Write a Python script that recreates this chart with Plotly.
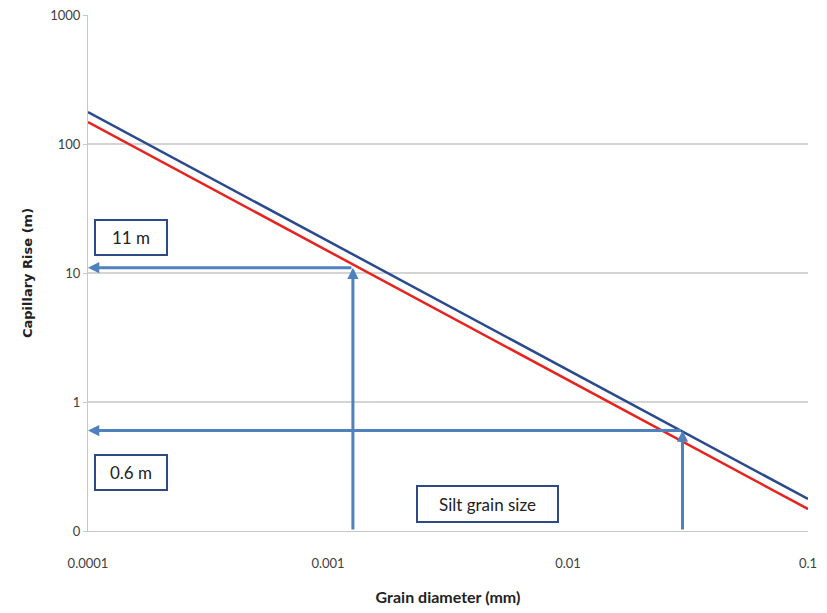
import math
import plotly.graph_objects as go

# Grain diameter (mm) and capillary rise (m) for the two curves
diameter = [0.0001, 0.001, 0.01, 0.1]
rise_blue = [177, 17.7, 1.77, 0.177]
rise_red = [148, 14.8, 1.48, 0.148]

x_ticks = [0.0001, 0.001, 0.01, 0.1]
x_tick_text = ["0.0001", "0.001", "0.01", "0.1"]
y_ticks = [0.1, 1, 10, 100, 1000]
y_tick_text = ["0", "1", "10", "100", "1000"]

# Reading guides: grain size -> capillary rise
clay_d, clay_rise = 0.00127, 11
silt_d, silt_rise = 0.03, 0.6
y_floor = 0.1
x_floor = 0.0001

arrow_color = "#4F81BD"
box_color = "#2E4A86"
font = "Lato, Liberation Sans, sans-serif"

fig = go.Figure()
fig.add_trace(go.Scatter(x=diameter, y=rise_blue, mode="lines",
                         line=dict(color="#2B4A8E", width=2.5), showlegend=False))
fig.add_trace(go.Scatter(x=diameter, y=rise_red, mode="lines",
                         line=dict(color="#E8231F", width=2.5), showlegend=False))

L = math.log10
annotations = []


def arrow(x_head, y_head, x_tail, y_tail):
    annotations.append(dict(
        x=L(x_head), y=L(y_head), ax=L(x_tail), ay=L(y_tail),
        xref="x", yref="y", axref="x", ayref="y",
        showarrow=True, arrowhead=2, arrowsize=0.75, arrowwidth=3,
        arrowcolor=arrow_color, text=""))


# vertical guides rising from the axis, horizontal guides pointing to the y axis
arrow(clay_d, clay_rise, clay_d, y_floor)
arrow(x_floor, clay_rise, clay_d, clay_rise)
arrow(silt_d, silt_rise, silt_d, y_floor)
arrow(x_floor, silt_rise, silt_d, silt_rise)


def box(text, xv, yv, w, h):
    annotations.append(dict(
        x=xv, y=yv, xref="x", yref="y", text=text, showarrow=False,
        width=w, height=h, bordercolor=box_color, borderwidth=2,
        bgcolor="white", font=dict(family=font, size=17, color="#222222")))


box("11 m", -3.821, 1.279, 68, 31)
box("0.6 m", -3.821, -0.550, 68, 31)
box("Silt grain size", -2.337, -0.791, 137, 32)

fig.update_layout(
    width=827, height=613,
    margin=dict(l=88, r=19, t=15, b=82),
    paper_bgcolor="white", plot_bgcolor="white",
    font=dict(family=font, size=13, color="#404040"),
    annotations=annotations,
    xaxis=dict(
        type="log", range=[-4, -1], automargin=False,
        tickvals=x_ticks, ticktext=x_tick_text,
        showgrid=False, zeroline=False,
        showline=True, linecolor="#C8C8C8", linewidth=1,
        ticks="outside", ticklen=20, tickcolor="rgba(0,0,0,0)",
        tickfont=dict(family=font, size=13, color="#404040"),
        title=dict(text="<b>Grain diameter (mm)</b>", standoff=22,
                   font=dict(family=font, size=16, color="#222222")),
    ),
    yaxis=dict(
        type="log", range=[-1, 3], automargin=False,
        tickvals=y_ticks, ticktext=y_tick_text,
        showgrid=True, gridcolor="#D4D4D4", gridwidth=1.5,
        zeroline=False,
        showline=True, linecolor="#C8C8C8", linewidth=1,
        ticks="outside", ticklen=4, tickcolor="#C8C8C8",
        tickfont=dict(family=font, size=13, color="#404040"),
        title=dict(text="<b>Capillary Rise (m)</b>", standoff=14,
                   font=dict(family="DejaVu Sans, Verdana, sans-serif",
                             size=13, color="#222222")),
    ),
)

fig.write_html("out.html")
